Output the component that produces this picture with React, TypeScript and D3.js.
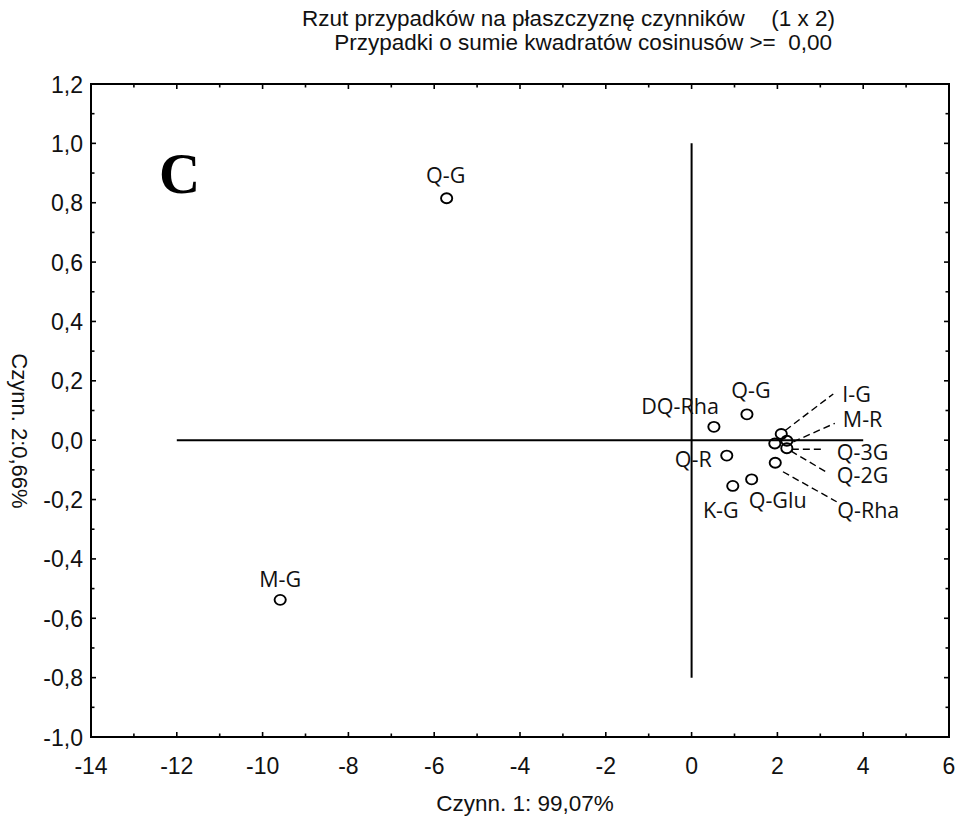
import React from "react";
import * as d3 from "d3";

// ---- data ----
const caseNames = ["Q-G", "M-G", "DQ-Rha", "Q-G", "Q-R", "K-G", "Q-Glu", "I-G", "M-R", "Q-3G", "Q-2G", "Q-Rha"];
const factor1 = [-5.71, -9.59, 0.52, 1.29, 0.82, 0.96, 1.40, 2.09, 2.22, 2.22, 1.94, 1.95];
const factor2 = [0.815, -0.538, 0.045, 0.087, -0.052, -0.154, -0.132, 0.021, -0.002, -0.027, -0.011, -0.076];

const xTickValues = [-14, -12, -10, -8, -6, -4, -2, 0, 2, 4, 6];
const yTickValues = [-1.0, -0.8, -0.6, -0.4, -0.2, 0.0, 0.2, 0.4, 0.6, 0.8, 1.0, 1.2];

const titleLine1 = "Rzut przypadków na płaszczyznę czynników";
const titleLine1b = "(1 x 2)";
const titleLine2 = "Przypadki o sumie kwadratów cosinusów >=  0,00";
const xAxisTitle = "Czynn. 1: 99,07%";
const yAxisTitle = "Czynn. 2:0,66%";
const panelLetter = "C";

// crosshair extents (data units)
const hLineRange = [-12, 4];
const vLineRange = [-0.8, 1.0];

// ---- label layout (pixel offsets from point) ----
type LabelLayout = { dx: number; dy: number; anchor: string; leader?: [number, number, number, number] };
const labelLayout: LabelLayout[] = [
  { dx: -1, dy: -15, anchor: "middle" },
  { dx: 0, dy: -13, anchor: "middle" },
  { dx: 5, dy: -12.5, anchor: "end" },
  { dx: 4, dy: -16, anchor: "middle" },
  { dx: -15, dy: 11, anchor: "end" },
  { dx: -12, dy: 32, anchor: "middle" },
  { dx: 26, dy: 29, anchor: "middle" },
  { dx: 61, dy: -32, anchor: "start", leader: [4, -3.5, 52, -40] },
  { dx: 56, dy: -14, anchor: "start", leader: [6.5, 1, 48, -17.5] },
  { dx: 50, dy: 12, anchor: "start", leader: [5, 1, 36, 1] },
  { dx: 62, dy: 40, anchor: "start", leader: [16, 7.5, 53, 29.5] },
  { dx: 62, dy: 55.5, anchor: "start", leader: [7.7, 9, 61.4, 39] },
];

const W = 957;
const H = 816;
const plot = { left: 91, right: 949, top: 84, bottom: 737 };

export default function App() {
  const x = d3.scaleLinear().domain([-14, 6]).range([plot.left, plot.right]);
  const y = d3.scaleLinear().domain([-1.0, 1.2]).range([plot.bottom, plot.top]);

  const xMinor = d3.range(-14, 6.001, 1);
  const yMinor = d3.range(-10, 12.001, 1).map((v) => v / 10);
  const isMajorX = (v: number) => Math.abs(v % 2) < 1e-9;
  const isMajorY = (v: number) => Math.abs(Math.round(v * 10) % 2) === 0;

  const fmtY = (v: number) => d3.format(".1f")(v).replace("−", "-").replace(".", ",");
  const fmtX = (v: number) => d3.format("d")(v).replace("−", "-");

  const tickFont = "'Liberation Sans', Arial, sans-serif";
  const labelFont = "'Open Sans', 'Noto Sans', sans-serif";

  return (
    <div style={{ position: "absolute", left: 0, top: 0 }}>
      <svg width={W} height={H} style={{ display: "block", background: "#fff" }}>
        {/* title */}
        <g fontFamily={tickFont} fontSize={22.5} fill="#111">
          <text x={302} y={26}>{titleLine1}</text>
          <text x={835} y={26} textAnchor="end">{titleLine1b}</text>
          <text x={832} y={50} textAnchor="end" xmlSpace="preserve" style={{ whiteSpace: "pre" }}>
            {titleLine2}
          </text>
        </g>

        {/* frame */}
        <rect
          x={plot.left}
          y={plot.top}
          width={plot.right - plot.left}
          height={plot.bottom - plot.top}
          fill="none"
          stroke="#000"
          strokeWidth={2}
        />

        {/* x ticks (bottom & top, inward) */}
        {xMinor.map((v) => {
          const len = isMajorX(v) ? 5 : 3.5;
          return (
            <g key={"xt" + v} stroke="#000" strokeWidth={1.6}>
              <line x1={x(v)} x2={x(v)} y1={plot.bottom} y2={plot.bottom - len} />
              <line x1={x(v)} x2={x(v)} y1={plot.top} y2={plot.top + len} />
            </g>
          );
        })}
        {/* y ticks (left & right, inward) */}
        {yMinor.map((v) => {
          const len = isMajorY(v) ? 5 : 3.5;
          return (
            <g key={"yt" + v} stroke="#000" strokeWidth={1.6}>
              <line x1={plot.left} x2={plot.left + len} y1={y(v)} y2={y(v)} />
              <line x1={plot.right} x2={plot.right - len} y1={y(v)} y2={y(v)} />
            </g>
          );
        })}

        {/* tick labels */}
        <g fontFamily={tickFont} fontSize={23} fill="#111">
          {xTickValues.map((v) => (
            <text key={"xl" + v} x={x(v)} y={774} textAnchor="middle">
              {fmtX(v)}
            </text>
          ))}
          {yTickValues.map((v) => (
            <text key={"yl" + v} x={83} y={y(v) + 8.5} textAnchor="end">
              {fmtY(v)}
            </text>
          ))}
        </g>

        {/* axis titles */}
        <text
          x={525}
          y={811}
          textAnchor="middle"
          fontFamily={tickFont}
          fontSize={22.5}
          fill="#111"
        >
          {xAxisTitle}
        </text>
        <text
          transform={`translate(12,431) rotate(90)`}
          textAnchor="middle"
          fontFamily={tickFont}
          fontSize={22}
          fill="#111"
        >
          {yAxisTitle}
        </text>

        {/* panel letter */}
        <text
          x={159}
          y={193}
          fontFamily="'Liberation Serif', 'Times New Roman', serif"
          fontWeight="bold"
          fontSize={57}
          fill="#000"
        >
          {panelLetter}
        </text>

        {/* crosshair */}
        <line x1={x(hLineRange[0])} x2={x(hLineRange[1])} y1={y(0)} y2={y(0)} stroke="#000" strokeWidth={2} />
        <line x1={x(0)} x2={x(0)} y1={y(vLineRange[0])} y2={y(vLineRange[1])} stroke="#000" strokeWidth={2} />

        {/* leader lines */}
        {caseNames.map((name, i) => {
          const L = labelLayout[i].leader;
          if (!L) return null;
          const px = x(factor1[i]);
          const py = y(factor2[i]);
          return (
            <line
              key={"ld" + i}
              x1={px + L[0]}
              y1={py + L[1]}
              x2={px + L[2]}
              y2={py + L[3]}
              stroke="#000"
              strokeWidth={1.4}
              strokeDasharray="7 4"
            />
          );
        })}

        {/* points */}
        {caseNames.map((name, i) => (
          <ellipse
            key={"pt" + i}
            cx={x(factor1[i])}
            cy={y(factor2[i])}
            rx={5.6}
            ry={5}
            fill="none"
            stroke="#000"
            strokeWidth={1.9}
          />
        ))}

        {/* labels */}
        <g fontFamily={labelFont} fontSize={21.5} fill="#111">
          {caseNames.map((name, i) => {
            const L = labelLayout[i];
            return (
              <text
                key={"lb" + i}
                x={x(factor1[i]) + L.dx}
                y={y(factor2[i]) + L.dy}
                textAnchor={L.anchor}
              >
                {name}
              </text>
            );
          })}
        </g>
      </svg>
    </div>
  );
}
